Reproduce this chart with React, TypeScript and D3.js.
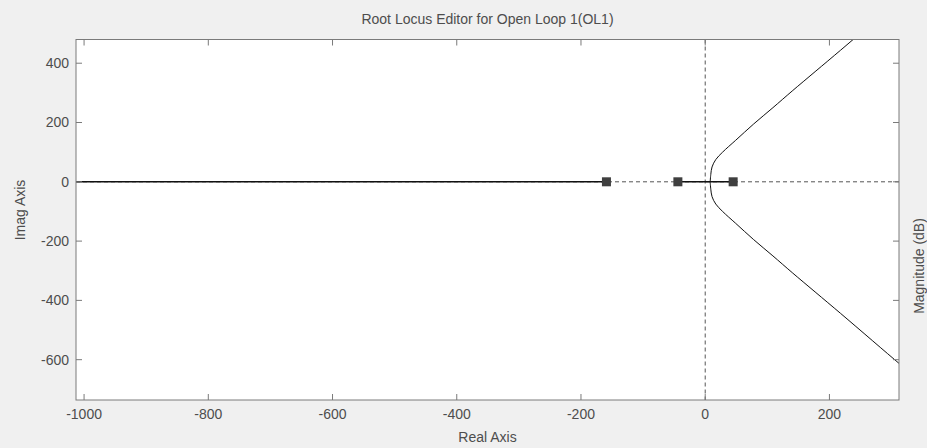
import React from "react";
import * as d3 from "d3";

const W = 927;
const H = 448;

const titleText = "Root Locus Editor for Open Loop 1(OL1)";
const xLabel = "Real Axis";
const yLabel = "Imag Axis";
const rightLabel = "Magnitude (dB)";

const xDomain = [-1013, 312];
const yDomain = [-736, 480];
const xTicks = [-1000, -800, -600, -400, -200, 0, 200];
const yTicks = [-600, -400, -200, 0, 200, 400];

// closed-loop pole markers (real axis)
const markerReals = [-159, -44, 45];

// solid real-axis locus segments [from, to]
const realSegments: [number, number][] = [
  [-1013, -159],
  [-44, 45],
];

// complex branch (upper half); lower half is mirrored
const branchX = [8, 9, 11, 17, 28, 49, 78, 109, 141, 218, 314, 342];
const branchY = [0, 25, 50, 75, 100, 140, 195, 250, 308, 444, 616, 665];

export default function App() {
  const m = { left: 76, right: 899, top: 39.5, bottom: 400 };
  const x = d3.scaleLinear().domain(xDomain).range([m.left, m.right]);
  const y = d3.scaleLinear().domain(yDomain).range([m.bottom, m.top]);

  const upper = branchX.map((bx, i) => [bx, branchY[i]] as [number, number]);
  const lower = branchX.map((bx, i) => [bx, -branchY[i]] as [number, number]);
  const line = d3
    .line<[number, number]>()
    .x((d) => x(d[0]))
    .y((d) => y(d[1]))
    .curve(d3.curveCatmullRom.alpha(0.5));

  const textColor = "#4d4d4d";
  const axisColor = "#7a7a7a";
  const font = "'Liberation Sans', Arial, sans-serif";
  const fs = 14;
  const tick = 6;
  const sq = 9;

  return (
    <svg
      width={W}
      height={H}
      style={{ position: "fixed", left: 0, top: 0, display: "block" }}
      fontFamily={font}
    >
      <rect x={0} y={0} width={W} height={H} fill="#f0f0f0" />
      <rect
        x={m.left}
        y={m.top}
        width={m.right - m.left}
        height={m.bottom - m.top}
        fill="#ffffff"
      />
      <defs>
        <clipPath id="plotclip">
          <rect
            x={m.left}
            y={m.top}
            width={m.right - m.left}
            height={m.bottom - m.top}
          />
        </clipPath>
      </defs>

      <g clipPath="url(#plotclip)">
        <line
          x1={m.left}
          x2={m.right}
          y1={y(0)}
          y2={y(0)}
          stroke="#555"
          strokeDasharray="4,3"
          strokeWidth={1}
        />
        <line
          x1={x(0)}
          x2={x(0)}
          y1={m.top}
          y2={m.bottom}
          stroke="#555"
          strokeDasharray="4,3"
          strokeWidth={1}
        />
        {realSegments.map((s, i) => (
          <line
            key={i}
            x1={x(s[0])}
            x2={x(s[1])}
            y1={y(0)}
            y2={y(0)}
            stroke="#111"
            strokeWidth={1.4}
          />
        ))}
        <path d={line(upper) || ""} fill="none" stroke="#111" strokeWidth={1} />
        <path d={line(lower) || ""} fill="none" stroke="#111" strokeWidth={1} />
        {markerReals.map((r, i) => (
          <rect
            key={i}
            x={x(r) - sq / 2}
            y={y(0) - sq / 2}
            width={sq}
            height={sq}
            fill="#3f3f3f"
          />
        ))}
      </g>

      <rect
        x={m.left}
        y={m.top}
        width={m.right - m.left}
        height={m.bottom - m.top}
        fill="none"
        stroke={axisColor}
        strokeWidth={1}
      />

      {xTicks.map((t) => (
        <g key={"x" + t}>
          <line x1={x(t)} x2={x(t)} y1={m.bottom} y2={m.bottom - tick} stroke={axisColor} />
          <line x1={x(t)} x2={x(t)} y1={m.top} y2={m.top + tick} stroke={axisColor} />
          <text
            x={x(t)}
            y={m.bottom + 19}
            textAnchor="middle"
            fontSize={fs}
            fill={textColor}
          >
            {t}
          </text>
        </g>
      ))}

      {yTicks.map((t) => (
        <g key={"y" + t}>
          <line x1={m.left} x2={m.left + tick} y1={y(t)} y2={y(t)} stroke={axisColor} />
          <line x1={m.right} x2={m.right - tick} y1={y(t)} y2={y(t)} stroke={axisColor} />
          <text
            x={m.left - 7}
            y={y(t)}
            dy="0.35em"
            textAnchor="end"
            fontSize={fs}
            fill={textColor}
          >
            {t}
          </text>
        </g>
      ))}

      <text x={(m.left + m.right) / 2} y={24} textAnchor="middle" fontSize={fs} fill={textColor}>
        {titleText}
      </text>
      <text x={(m.left + m.right) / 2} y={442} textAnchor="middle" fontSize={fs} fill={textColor}>
        {xLabel}
      </text>
      <text
        transform={`translate(25,210) rotate(-90)`}
        textAnchor="middle"
        fontSize={fs}
        fill={textColor}
      >
        {yLabel}
      </text>
      <text
        transform={`translate(924,266) rotate(-90)`}
        textAnchor="middle"
        fontSize={fs}
        fill={textColor}
      >
        {rightLabel}
      </text>
    </svg>
  );
}
